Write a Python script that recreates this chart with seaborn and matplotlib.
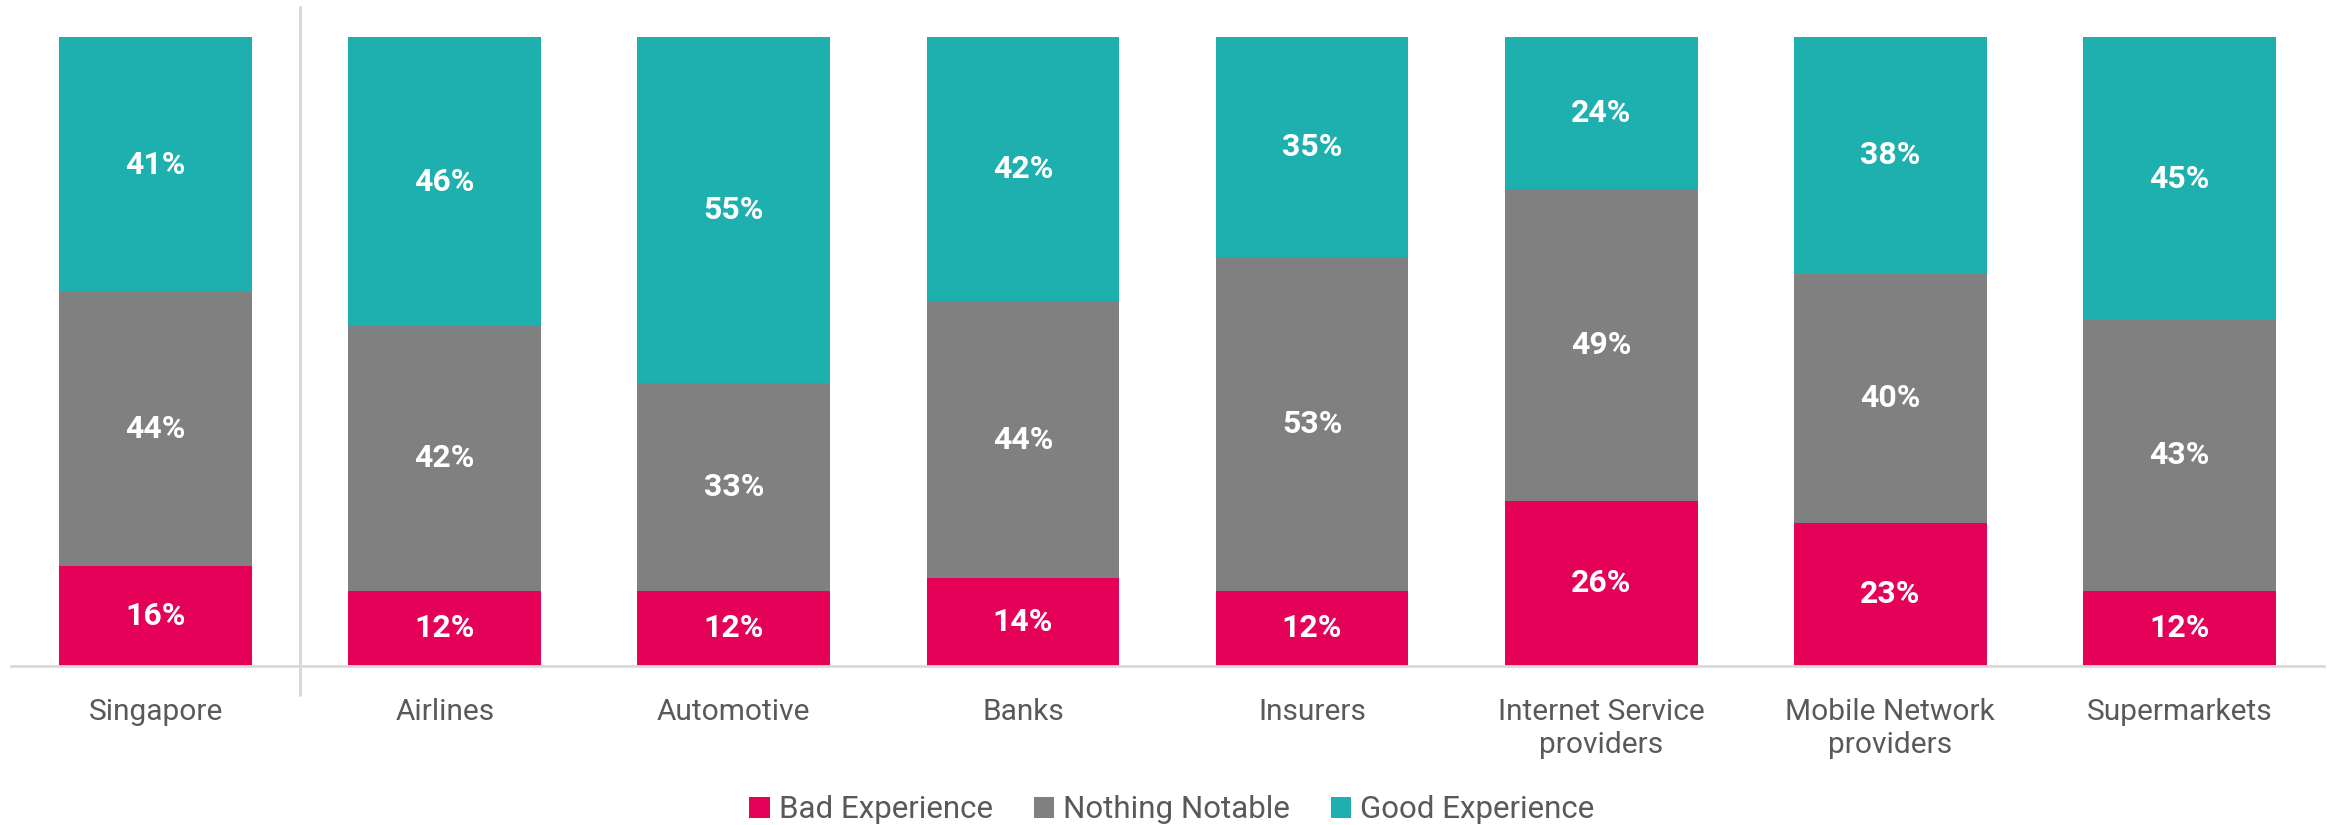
import numpy as np
import pandas as pd
import matplotlib
matplotlib.use("Agg")
import matplotlib.pyplot as plt
import seaborn as sns
from matplotlib.patches import Patch

categories = ["Singapore", "Airlines", "Automotive", "Banks", "Insurers",
              "Internet Service\nproviders", "Mobile Network\nproviders", "Supermarkets"]
bad = [16, 12, 12, 14, 12, 26, 23, 12]
nothing = [44, 42, 33, 44, 53, 49, 40, 43]
good = [41, 46, 55, 42, 35, 24, 38, 45]
series_names = ["Bad Experience", "Nothing Notable", "Good Experience"]
colors = ["#E50058", "#808080", "#1EAFAF"]

sns.set_theme(style="white")
plt.rcParams['font.family'] = ['Roboto', 'DejaVu Sans']

df = pd.DataFrame({"cat": categories, "bad": bad, "nothing": nothing, "good": good})
total = df["bad"] + df["nothing"] + df["good"]
df["bad_s"] = df["bad"] / total * 100
df["nothing_s"] = df["nothing"] / total * 100
df["good_s"] = df["good"] / total * 100
df["top1"] = df["bad_s"]
df["top2"] = df["bad_s"] + df["nothing_s"]
df["top3"] = df["top2"] + df["good_s"]

fig = plt.figure(figsize=(23.3, 8.25), dpi=100)
ax = fig.add_axes([11 / 2330, 1 - 666 / 825, (2324 - 11) / 2330, (666 - 37) / 825])

w = 0.667
sns.barplot(data=df, x="cat", y="top3", order=categories, color=colors[2], width=w,
            saturation=1, ax=ax, linewidth=0, errorbar=None)
sns.barplot(data=df, x="cat", y="top2", order=categories, color=colors[1], width=w,
            saturation=1, ax=ax, linewidth=0, errorbar=None)
sns.barplot(data=df, x="cat", y="top1", order=categories, color=colors[0], width=w,
            saturation=1, ax=ax, linewidth=0, errorbar=None)

ax.set_xlim(-0.5, len(categories) - 0.5)
ax.set_ylim(0, 100)
ax.set_xlabel("")
ax.set_ylabel("")
ax.set_yticks([])
for s in ["top", "right", "left"]:
    ax.spines[s].set_visible(False)
ax.spines["bottom"].set_color("#D9D9D9")
ax.spines["bottom"].set_linewidth(2)
ax.tick_params(axis="x", length=0, pad=23, labelsize=21.5, labelcolor="#595959")
for lbl in ax.get_xticklabels():
    lbl.set_linespacing(1.25)

for i in range(len(categories)):
    segs = [(0, df["top1"][i], bad[i]),
            (df["top1"][i], df["top2"][i], nothing[i]),
            (df["top2"][i], df["top3"][i], good[i])]
    for lo, hi, v in segs:
        ax.text(i, (lo + hi) / 2, f"{v}%", ha="center", va="center", color="white",
                fontsize=23, fontweight="bold")

# separator between Singapore and sectors
ax.plot([0.5, 0.5], [-0.046, 1.048], color="#D9D9D9", lw=2.2,
        transform=ax.get_xaxis_transform(), clip_on=False)

handles = [Patch(facecolor=c, edgecolor="none") for c in colors]
fig.legend(handles, series_names, loc="center", bbox_to_anchor=(1172 / 2330, 1 - 810 / 825),
           ncol=3, frameon=False, fontsize=22.5, handlelength=0.65, handleheight=0.65,
           handletextpad=0.3, columnspacing=1.3, labelcolor="#595959")

fig.savefig("out.png", dpi=100)
